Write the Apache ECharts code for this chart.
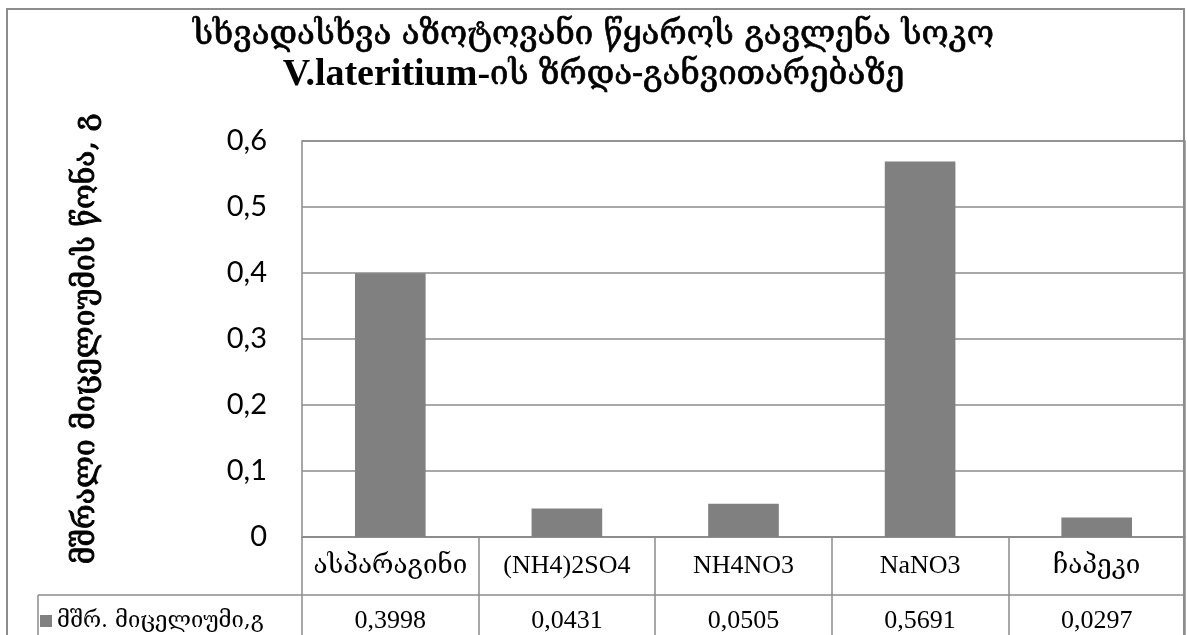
<!DOCTYPE html>
<html>
<head>
<meta charset="utf-8">
<script src="https://cdn.jsdelivr.net/npm/echarts@6/dist/echarts.min.js"></script>
<style>
  html, body { margin: 0; padding: 0; background: #fff; }
  #chart { width: 1187px; height: 635px; }
</style>
</head>
<body>
<div id="chart"></div>
<script>
// Nitrogen sources and dry mycelium weight (g)
const categories = ['ასპარაგინი', '(NH4)2SO4', 'NH4NO3', 'NaNO3', 'ჩაპეკი'];
const seriesName = 'მშრ. მიცელიუმი,გ';
const dryWeight = [0.3998, 0.0431, 0.0505, 0.5691, 0.0297];
const yTicks = { min: 0, max: 0.6, interval: 0.1 };

const titleLine1 = 'სხვადასხვა აზოტოვანი წყაროს გავლენა სოკო';
const titleLatin = 'V.lateritium-';
const titleLine2Rest = 'ის ზრდა-განვითარებაზე';
const yAxisTitle = 'მშრალი მიცელიუმის წონა, გ';

const commaNum = v => String(v).replace('.', ',');

const lineColor = '#8c8c8c';
const serif = '"Liberation Serif", "DejaVu Serif", serif';
const georgian = '"DejaVu Serif", "DejaVu Sans", serif';

// medium-weight Georgian: regular face with a thin outline
const geoHeavy = { fontFamily: georgian, fontWeight: 'normal', color: '#000', textBorderColor: '#000', textBorderWidth: 0.7 };

const chart = echarts.init(document.getElementById('chart'), null, { renderer: 'canvas' });

chart.setOption({
  animation: false,
  backgroundColor: '#ffffff',
  title: {
    left: 'center',
    top: 10,
    text: '{g|' + titleLine1 + '}\n{b|' + titleLatin + '}{g|' + titleLine2Rest + '}',
    textStyle: {
      rich: {
        g: Object.assign({ fontSize: 33, lineHeight: 40 }, geoHeavy),
        b: { fontFamily: serif, fontSize: 38, fontWeight: 'bold', color: '#000', lineHeight: 40 }
      }
    }
  },
  legend: {
    data: [seriesName],
    left: 35,
    top: 604,
    icon: 'rect',
    itemWidth: 12,
    itemHeight: 12,
    itemGap: 0,
    textStyle: { fontFamily: georgian, fontSize: 22, lineHeight: 24, color: '#000', padding: [0, 0, 0, 0] }
  },
  grid: {
    left: 302,
    right: 2,
    top: 141,
    bottom: 98,
    show: true,
    borderColor: lineColor,
    borderWidth: 1.5
  },
  xAxis: [
    {
      type: 'category',
      data: categories,
      position: 'bottom',
      axisLine: { show: true, lineStyle: { color: lineColor, width: 1.5 } },
      axisTick: { show: true, length: 100, lineStyle: { color: lineColor, width: 1.5 } },
      axisLabel: {
        interval: 0,
        margin: 16,
        fontFamily: serif,
        fontSize: 26,
        lineHeight: 26,
        color: '#000'
      }
    },
    {
      type: 'category',
      data: dryWeight.map(commaNum),
      position: 'bottom',
      offset: 58,
      axisLine: { show: false },
      axisTick: { show: false },
      axisLabel: {
        interval: 0,
        margin: 13,
        fontFamily: serif,
        fontSize: 26,
        lineHeight: 26,
        color: '#000'
      }
    }
  ],
  yAxis: {
    type: 'value',
    min: yTicks.min,
    max: yTicks.max,
    interval: yTicks.interval,
    name: yAxisTitle,
    nameLocation: 'middle',
    nameRotate: 90,
    nameGap: 201,
    nameTextStyle: Object.assign({ fontSize: 30 }, geoHeavy, { textBorderWidth: 0.9 }),
    axisLine: { show: false },
    axisTick: { show: false },
    axisLabel: {
      margin: 35,
      fontFamily: 'Lato, "Open Sans", sans-serif',
      fontSize: 29,
      color: '#000',
      formatter: v => commaNum(Math.round(v * 10) / 10)
    },
    splitLine: { lineStyle: { color: lineColor, width: 1.5 } }
  },
  series: [{
    name: seriesName,
    type: 'bar',
    xAxisIndex: 0,
    data: dryWeight,
    barCategoryGap: '60%',
    itemStyle: { color: '#808080' }
  }],
  graphic: [
    {
      type: 'rect',
      z: 100,
      silent: true,
      shape: { x: 7, y: 9, width: 1177, height: 640 },
      style: { fill: 'none', stroke: lineColor, lineWidth: 2 }
    },
    {
      type: 'line',
      z: 100,
      silent: true,
      shape: { x1: 38, y1: 595, x2: 1185, y2: 595 },
      style: { stroke: lineColor, lineWidth: 1.5 }
    },
    {
      type: 'line',
      z: 100,
      silent: true,
      shape: { x1: 38, y1: 595, x2: 38, y2: 640 },
      style: { stroke: lineColor, lineWidth: 1.5 }
    }
  ]
});
</script>
</body>
</html>
